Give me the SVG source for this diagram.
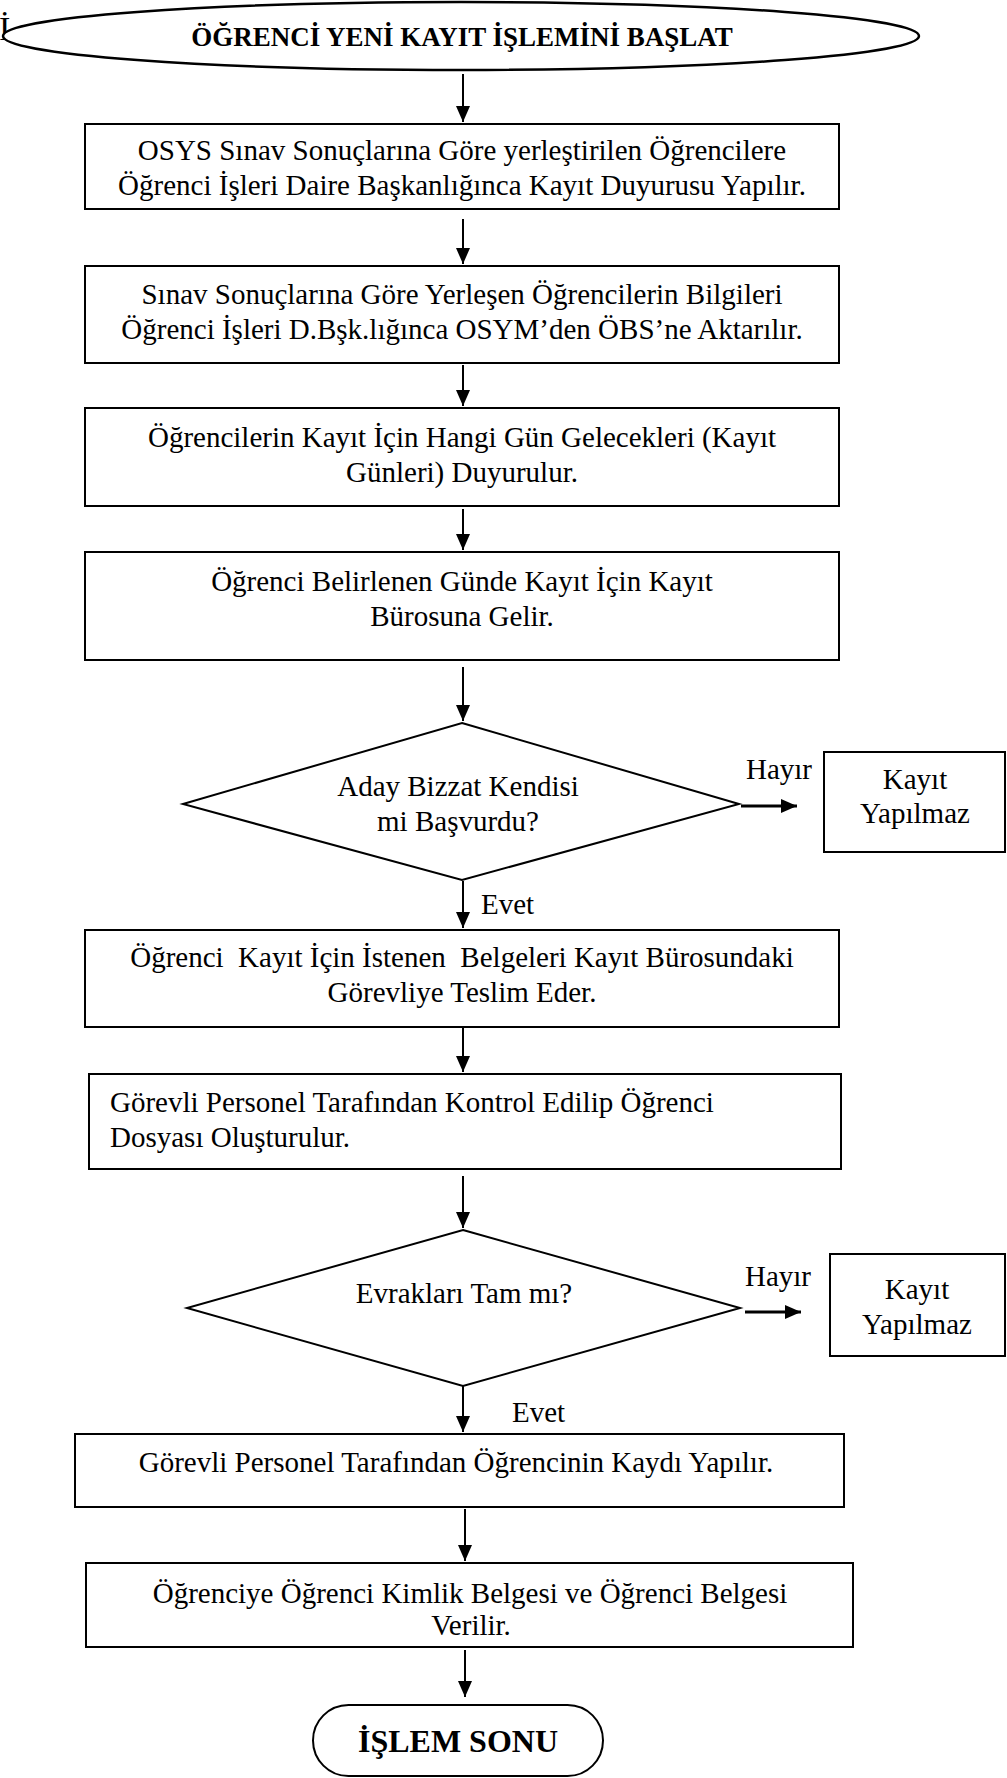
<svg xmlns="http://www.w3.org/2000/svg" width="1007" height="1778" viewBox="0 0 1007 1778">
<defs>
<marker id="ah" viewBox="0 0 16 14" refX="16" refY="7" markerWidth="16" markerHeight="14" markerUnits="userSpaceOnUse" orient="auto">
<path d="M0,0 L16,7 L0,14 Z" fill="#000"/>
</marker>
<style>
.s{fill:#fff;stroke:#000;stroke-width:2}
.t{font-family:"Liberation Serif","Times New Roman",serif;font-size:29px;fill:#000}
.c{text-anchor:middle}
.b{font-weight:bold}
.ln{stroke:#000;stroke-width:2;fill:none;marker-end:url(#ah)}
</style>
</defs>
<rect width="1007" height="1778" fill="#fff"/>
<text class="t" x="-1" y="40" style="font-size:34px">İ</text>
<g id="start">
<ellipse class="s" cx="461" cy="36" rx="458" ry="34" style="stroke-width:2.5"/>
<text class="t c b" x="462" y="46" style="font-size:27px">ÖĞRENCİ YENİ KAYIT İŞLEMİNİ BAŞLAT</text>
</g>
<g id="box1">
<rect class="s" x="85" y="124" width="754" height="85"/>
<text class="t c" x="462" y="160">OSYS Sınav Sonuçlarına Göre yerleştirilen Öğrencilere</text>
<text class="t c" x="462" y="195">Öğrenci İşleri Daire Başkanlığınca Kayıt Duyurusu Yapılır.</text>
</g>
<g id="box2">
<rect class="s" x="85" y="266" width="754" height="97"/>
<text class="t c" x="462" y="304">Sınav Sonuçlarına Göre Yerleşen Öğrencilerin Bilgileri</text>
<text class="t c" x="462" y="339">Öğrenci İşleri D.Bşk.lığınca OSYM’den ÖBS’ne Aktarılır.</text>
</g>
<g id="box3">
<rect class="s" x="85" y="408" width="754" height="98"/>
<text class="t c" x="462" y="447">Öğrencilerin Kayıt İçin Hangi Gün Gelecekleri (Kayıt</text>
<text class="t c" x="462" y="482">Günleri) Duyurulur.</text>
</g>
<g id="box4">
<rect class="s" x="85" y="552" width="754" height="108"/>
<text class="t c" x="462" y="591">Öğrenci Belirlenen Günde Kayıt İçin Kayıt</text>
<text class="t c" x="462" y="626">Bürosuna Gelir.</text>
</g>
<g id="decision1">
<polygon class="s" points="462,723 739,804 462,880 183,804"/>
<text class="t c" x="458" y="796">Aday Bizzat Kendisi</text>
<text class="t c" x="458" y="831">mi Başvurdu?</text>
</g>
<g id="reject1">
<rect class="s" x="824" y="752" width="181" height="100"/>
<text class="t c" x="915" y="789">Kayıt</text>
<text class="t c" x="915" y="823">Yapılmaz</text>
</g>
<g id="box5">
<rect class="s" x="85" y="930" width="754" height="97"/>
<text class="t c" x="462" y="967" xml:space="preserve" style="white-space:pre">Öğrenci  Kayıt İçin İstenen  Belgeleri Kayıt Bürosundaki</text>
<text class="t c" x="462" y="1002">Görevliye Teslim Eder.</text>
</g>
<g id="box6">
<rect class="s" x="89" y="1074" width="752" height="95"/>
<text class="t" x="110" y="1112">Görevli Personel Tarafından Kontrol Edilip Öğrenci</text>
<text class="t" x="110" y="1147">Dosyası Oluşturulur.</text>
</g>
<g id="decision2">
<polygon class="s" points="463,1230 740,1308 463,1386 187,1308"/>
<text class="t c" x="464" y="1303">Evrakları Tam mı?</text>
</g>
<g id="reject2">
<rect class="s" x="830" y="1254" width="175" height="102"/>
<text class="t c" x="917" y="1299">Kayıt</text>
<text class="t c" x="917" y="1334">Yapılmaz</text>
</g>
<g id="box7">
<rect class="s" x="75" y="1434" width="769" height="73"/>
<text class="t c" x="456" y="1472">Görevli Personel Tarafından Öğrencinin Kaydı Yapılır.</text>
</g>
<g id="box8">
<rect class="s" x="86" y="1563" width="767" height="84"/>
<text class="t c" x="470" y="1603">Öğrenciye Öğrenci Kimlik Belgesi ve Öğrenci Belgesi</text>
<text class="t c" x="471" y="1635">Verilir.</text>
</g>
<g id="end">
<rect class="s" x="313" y="1705" width="290" height="71" rx="35.5" ry="35.5"/>
<text class="t c b" x="458" y="1752" style="font-size:32px">İŞLEM SONU</text>
</g>
<g id="connectors">
<line class="ln" x1="463" y1="74" x2="463" y2="122"/>
<line class="ln" x1="463" y1="219" x2="463" y2="264"/>
<line class="ln" x1="463" y1="365" x2="463" y2="406"/>
<line class="ln" x1="463" y1="509" x2="463" y2="550"/>
<line class="ln" x1="463" y1="667" x2="463" y2="721"/>
<line class="ln" x1="463" y1="881" x2="463" y2="928"/>
<line class="ln" x1="463" y1="1028" x2="463" y2="1072"/>
<line class="ln" x1="463" y1="1176" x2="463" y2="1228"/>
<line class="ln" x1="463" y1="1386" x2="463" y2="1432"/>
<line class="ln" x1="465" y1="1509" x2="465" y2="1561"/>
<line class="ln" x1="465" y1="1650" x2="465" y2="1697"/>
<line class="ln" x1="741" y1="806" x2="797" y2="806" style="stroke-width:3"/>
<line class="ln" x1="745" y1="1312" x2="801" y2="1312" style="stroke-width:3"/>
<text class="t" x="746" y="779">Hayır</text>
<text class="t" x="745" y="1286">Hayır</text>
<text class="t" x="481" y="914">Evet</text>
<text class="t" x="512" y="1422">Evet</text>
</g>
</svg>
